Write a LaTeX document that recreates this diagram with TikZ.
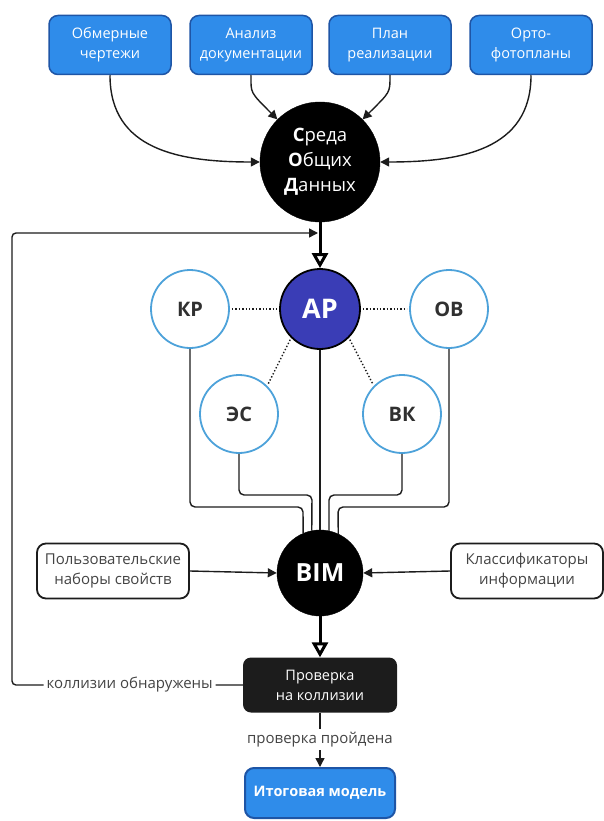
\documentclass[tikz,border=0pt]{standalone}
\usepackage{fontspec}
\setmainfont{Open Sans}
\usepackage{xcolor}
\usepackage{tikz}
\usetikzlibrary{calc}
\usetikzlibrary{arrows.meta}
\definecolor{srcblue}{HTML}{2F8CEA}
\definecolor{srcedge}{HTML}{1E55A6}
\definecolor{apblue}{HTML}{3A3DB6}
\definecolor{ringblue}{HTML}{4DA2DA}
\definecolor{inkgray}{HTML}{1C1C1C}
\definecolor{txtgray}{HTML}{444444}

\begin{document}
\begin{tikzpicture}[x=1pt,y=-1pt,
	srcbox/.style={draw=srcedge,line width=1.5pt,fill=srcblue,rounded corners=9pt,minimum width=122pt,minimum height=59pt,align=center,text=white,font=\fontsize{14.5}{20}\selectfont},
	hub/.style={circle,fill=black,draw=black,inner sep=0pt,text=white,align=center},
	part/.style={circle,draw=ringblue,line width=1.8pt,fill=white,minimum size=78pt,text=txtgray!70!black,font=\fontsize{20}{24}\selectfont\bfseries},
	sidebox/.style={draw=inkgray,line width=1.8pt,fill=white,rounded corners=9pt,minimum width=152pt,minimum height=55pt,align=center,text=txtgray,font=\fontsize{15}{20}\selectfont},
	link/.style={draw=inkgray,line width=1.4pt},
	flow/.style={link,-{Triangle[length=9pt,width=9pt]}},
	bigflow/.style={draw=black,line width=3pt,-{Triangle[open,length=15pt,width=16pt]}},
	tie/.style={draw=inkgray,line width=1.4pt,dotted,shorten >=2pt,shorten <=2pt},
	lbl/.style={fill=white,text=txtgray,font=\fontsize{15}{17}\selectfont,inner sep=3pt}]
	\useasboundingbox (0,0) rectangle (603,821);
	\node[srcbox] (obm) at (110,45) {Обмерные\\чертежи};
	\node[srcbox] (anl) at (251,45) {Анализ\\документации};
	\node[srcbox] (pln) at (390,45) {План\\реализации};
	\node[srcbox] (ort) at (531,45) {Орто-\\фотопланы};
	\node[hub,minimum size=120pt,font=\fontsize{18.5}{25}\selectfont] (sod) at (320,162) {{\bfseries С}реда\\{\bfseries О}бщих\\{\bfseries Д}анных};
	\node[circle,draw=black,line width=1.8pt,fill=apblue,minimum size=80pt,text=white,font=\fontsize{27}{30}\selectfont\bfseries] (ar) at (320,309) {АР};
	\node[part] (kr) at (190,309) {КР};
	\node[part] (ov) at (449,309) {ОВ};
	\node[part] (es) at (239,414) {ЭС};
	\node[part] (vk) at (402,414) {ВК};
	\node[hub,minimum size=86pt,font=\fontsize{25}{28}\selectfont\bfseries] (bim) at (320,573) {BIM};
	\node[sidebox] (usr) at (113,571) {Пользовательские\\наборы свойств};
	\node[sidebox] (cls) at (527,571) {Классификаторы\\информации};
	\node[fill=inkgray,rounded corners=8pt,minimum width=154pt,minimum height=55pt,align=center,text=white,font=\fontsize{14.5}{20}\selectfont] (chk) at (320,685) {Проверка\\на коллизии};
	\node[srcbox,line width=2pt,minimum width=150pt,minimum height=50pt,font=\fontsize{14.5}{16}\selectfont\bfseries] (fin) at (320,793) {Итоговая модель};
	\coordinate (turn) at (12,233);
	\coordinate (back) at (318,233);
	\draw[flow] (obm.south) .. controls +(0,75) and +(-80,0) .. (sod.west);
	\draw[flow] (anl.south) .. controls +(0,18) and +(-28,-28) .. (sod.135);
	\draw[flow] (pln.south) .. controls +(0,18) and +(28,-28) .. (sod.45);
	\draw[flow] (ort.south) .. controls +(0,75) and +(80,0) .. (sod.east);
	\draw[bigflow] (sod.south) -- (ar.north);
	\draw[tie] (kr.east) -- (ar.west);
	\draw[tie] (ar.east) -- (ov.west);
	\draw[tie] (ar.225) -- (es.45);
	\draw[tie] (ar.-45) -- (vk.135);
	\draw[link,rounded corners=5pt] (kr.south) |- ($(bim.center)+(-17,-66)$) -- (bim.113);
	\draw[link,rounded corners=5pt] (es.south) |- ($(bim.center)+(-8,-78)$) -- (bim.101);
	\draw[link] (ar.south) -- (bim.north);
	\draw[link,rounded corners=5pt] (vk.south) |- ($(bim.center)+(9,-78)$) -- (bim.78);
	\draw[link,rounded corners=5pt] (ov.south) |- ($(bim.center)+(18,-66)$) -- (bim.65);
	\draw[flow] (usr.east) -- (bim.west);
	\draw[flow] (cls.west) -- (bim.east);
	\draw[bigflow] (bim.south) -- (chk.north);
	\draw[flow,rounded corners=4pt] (chk.west) -| node[lbl,pos=0.245] {коллизии обнаружены} (turn) -- (back);
	\draw[flow] (chk.south) -- node[lbl] {проверка пройдена} (fin.north);
\end{tikzpicture}
\end{document}
